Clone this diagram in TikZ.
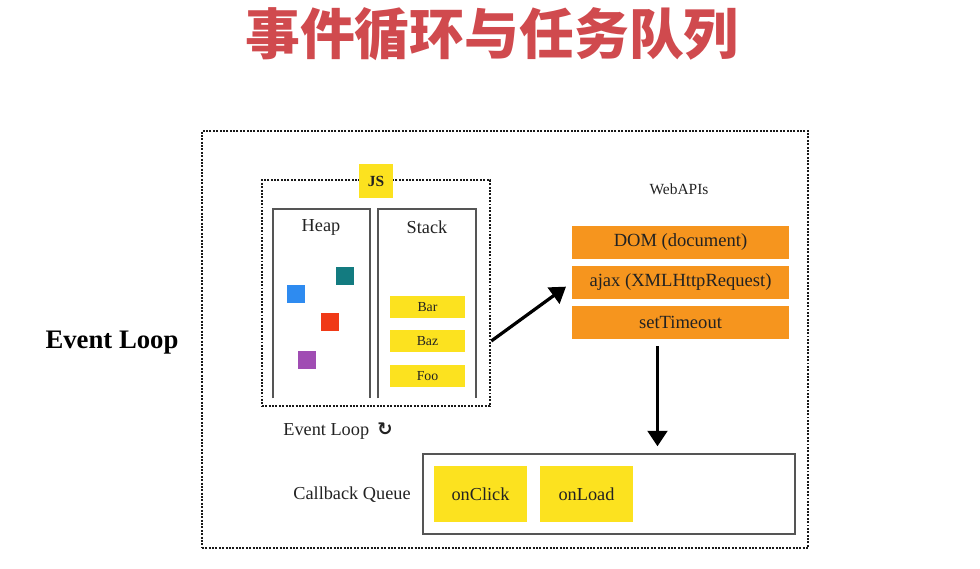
\documentclass[tikz,border=0pt]{standalone}
\usepackage{fontspec}
\setmainfont{Liberation Serif}
\newfontfamily\cjk{Noto Sans CJK SC}
\newfontfamily\dejavu{DejaVu Sans}
\usepackage{tikz}
\usetikzlibrary{arrows.meta}
\usetikzlibrary{calc}

\definecolor{titlered}{HTML}{D04A4E}
\definecolor{jsyellow}{HTML}{FCE21F}
\definecolor{apiorange}{HTML}{F6951E}
\definecolor{sqblue}{HTML}{2E8BF0}
\definecolor{sqteal}{HTML}{137B80}
\definecolor{sqred}{HTML}{F03A17}
\definecolor{sqpurple}{HTML}{A04DB3}
\definecolor{linegray}{HTML}{555555}
\definecolor{ink}{HTML}{222222}

\begin{document}
\begin{tikzpicture}[x=0.025cm,y=-0.025cm]
\tikzstyle{dotbox} = [draw=black!90, line width=1.8pt, dash pattern=on 1.4pt off 1pt, inner sep=0]
\tikzstyle{column} = [inner sep=0, minimum width=2.425cm, minimum height=4.725cm]
\tikzstyle{frame} = [text=ink, font=\fontsize{13}{15}\selectfont]
\tikzstyle{obj} = [inner sep=0, minimum size=0.45cm]
\tikzstyle{call} = [fill=jsyellow, text=ink, inner sep=0, minimum width=1.875cm, minimum height=0.55cm, font=\fontsize{9.8}{11}\selectfont]
\tikzstyle{api} = [fill=apiorange, text=ink, inner sep=0, minimum width=5.425cm, minimum height=0.825cm, font=\fontsize{13.2}{15}\selectfont]
\tikzstyle{task} = [fill=jsyellow, text=ink, inner sep=0, minimum width=2.325cm, minimum height=1.4cm, font=\fontsize{13}{15}\selectfont]
\tikzstyle{flow} = [-{Triangle[length=11pt,width=14pt]}, line width=2.3pt]
\useasboundingbox (0,0) rectangle (980,568);

% title
\node (title) at (492,34) {\cjk\bfseries\fontsize{39}{42}\selectfont\color{titlered}事件循环与任务队列};
\node[font=\bfseries\fontsize{19}{22}\selectfont] (loopname) at (112,343) {Event Loop};

% outer frame and js engine
\node[dotbox, minimum width=15.15cm, minimum height=10.425cm] (outer) at (505,339.5) {};
\node[dotbox, minimum width=5.7cm, minimum height=5.65cm] (jsbox) at (376,293) {};
\node[fill=jsyellow, text=ink, minimum size=0.85cm, inner sep=0, font=\bfseries\fontsize{11}{12}\selectfont] (js) at (376,181) {JS};

% heap
\node[column] (heap) at (321.5,303.5) {};
\draw[linegray, line width=1.2pt] (heap.south west) -- (heap.north west) -- (heap.north east) -- (heap.south east);
\node[frame] (heaplabel) at (321,227) {Heap};
\node[obj, fill=sqteal] (obj1) at (345,276) {};
\node[obj, fill=sqblue] (obj2) at (296,294) {};
\node[obj, fill=sqred] (obj3) at (330,322) {};
\node[obj, fill=sqpurple] (obj4) at (307,360) {};

% stack
\node[column] (stack) at (427,303.5) {};
\draw[linegray, line width=1.2pt] (stack.south west) -- (stack.north west) -- (stack.north east) -- (stack.south east);
\node[frame] (stacklabel) at (427,227) {Stack};
\node[call] (bar) at (427.5,307) {Bar};
\node[call] (baz) at (427.5,341) {Baz};
\node[call] (foo) at (427.5,376) {Foo};

% web apis
\node[text=ink, font=\fontsize{11}{13}\selectfont] (webapis) at (679,189) {WebAPIs};
\node[api] (dom) at (680.5,242.5) {DOM (document)};
\node[api] (ajax) at (680.5,282.5) {ajax (XMLHttpRequest)};
\node[api] (timeout) at (680.5,322.5) {setTimeout};

% queue
\node[frame] (looplabel) at (338,431) {Event Loop\hspace{0.45em}{\dejavu\bfseries\fontsize{13}{14}\selectfont ↻}};
\node[frame] (queuelabel) at (352,495) {Callback Queue};
\node[draw=linegray, line width=1pt, inner sep=0, minimum width=9.3cm, minimum height=2cm] (queue) at (609,494) {};
\node[task] (onclick) at (480.5,494) {onClick};
\node[task] (onload) at (586.5,494) {onLoad};

% arrows
\draw[flow, shorten >=5pt] (jsbox.east |- baz) -- (ajax.west);
\draw[flow, shorten <=5pt, shorten >=5pt] ([xshift=-0.575cm]timeout.south) -- ([xshift=-0.575cm]timeout.south |- queue.north);
\end{tikzpicture}
\end{document}
